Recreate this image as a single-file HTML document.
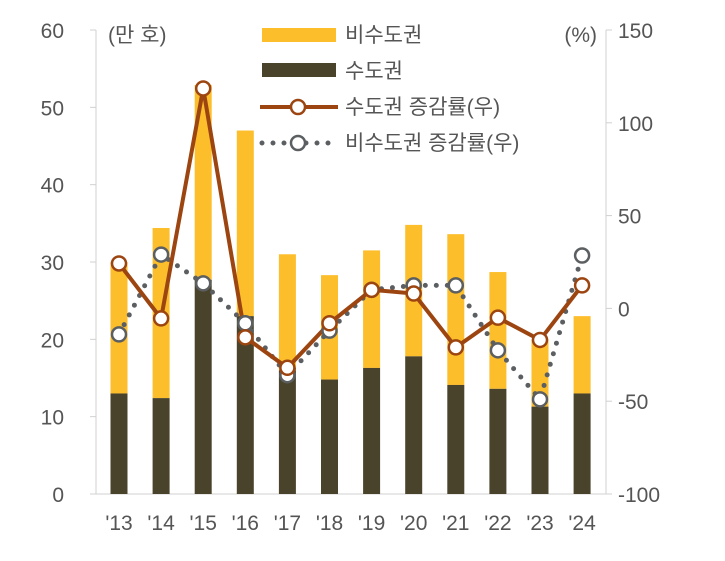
<!DOCTYPE html>
<html><head><meta charset="utf-8"><style>
body{margin:0;background:#fff}
text{font-family:"Liberation Sans","Noto Sans CJK KR",sans-serif}
</style></head><body>
<svg id="c" width="725" height="556" xmlns="http://www.w3.org/2000/svg"></svg>
<script>
const categories=["'13","'14","'15","'16","'17","'18","'19","'20","'21","'22","'23","'24"];
const capital=[13,12.4,27.7,23,16,14.8,16.3,17.8,14.1,13.6,11.3,13];
const total=[30,34.4,52.9,47,31,28.3,31.5,34.8,33.6,28.7,20,23];
const capitalGrowth=[24.2,-5.4,118.5,-15.6,-32,-8,10,8,-21,-5,-17,12.4];
const nonCapitalGrowth=[-14,29,13.5,-8,-36,-12,10,12.4,12.4,-22.6,-49,28.5];
const leftTicks=[0,10,20,30,40,50,60];
const rightTicks=[-100,-50,0,50,100,150];
const svg=document.getElementById('c');const NS='http://www.w3.org/2000/svg';
function el(t,a,p){const e=document.createElementNS(NS,t);for(const k in a)e.setAttribute(k,a[k]);(p||svg).appendChild(e);return e;}
const y0=494,y1=30;
const yL=v=>y0-(v/60)*(y0-y1);
const yR=v=>y0-((v+100)/250)*(y0-y1);
const xC=i=>119+i*42.1;
let ax=el('line',{x1:96,y1:30,x2:96,y2:494,stroke:'#d0d0d0','stroke-width':1});

let ax2=el('line',{x1:606,y1:30,x2:606,y2:494,stroke:'#d0d0d0','stroke-width':1});

let ax3=el('line',{x1:96,y1:494,x2:606,y2:494,stroke:'#d0d0d0','stroke-width':1});

leftTicks.forEach(v=>{const t=el('text',{x:64,y:yL(v)+8,'text-anchor':'end','font-size':21,fill:'#555'});t.textContent=v;

const k=el('line',{x1:90,y1:yL(v),x2:96,y2:yL(v),stroke:'#d0d0d0'});});
rightTicks.forEach(v=>{const t=el('text',{x:618,y:yR(v)+8,'font-size':21,fill:'#555'});t.textContent=v;

const k=el('line',{x1:606,y1:yR(v),x2:612,y2:yR(v),stroke:'#d0d0d0'});});
categories.forEach((c,i)=>{const t=el('text',{x:xC(i),y:530,'text-anchor':'middle','font-size':21,fill:'#555'});t.textContent=c;
});
let u=el('text',{x:108,y:42,'font-size':21,fill:'#555'});u.textContent='(만 호)';
let u2=el('text',{x:597,y:42,'text-anchor':'end','font-size':21,fill:'#555'});u2.textContent='(%)';
const bw=17;
categories.forEach((c,i)=>{
 const b=el('rect',{x:xC(i)-bw/2,y:yL(total[i]),width:bw,height:yL(capital[i])-yL(total[i]),fill:'#fdbe2c'});
 
 const d=el('rect',{x:xC(i)-bw/2,y:yL(capital[i]),width:bw,height:y0-yL(capital[i]),fill:'#4a432b'});
 
});
const gp=capitalGrowth.map((v,i)=>xC(i)+','+yR(v)).join(' ');
const np=nonCapitalGrowth.map((v,i)=>xC(i)+','+yR(v)).join(' ');
let l2=el('polyline',{points:np,fill:'none',stroke:'#5b5f61','stroke-width':5,'stroke-dasharray':'0 11','stroke-linecap':'round'});

let l1=el('polyline',{points:gp,fill:'none',stroke:'#9c4511','stroke-width':4});

nonCapitalGrowth.forEach((v,i)=>{const m=el('circle',{cx:xC(i),cy:yR(v),r:7,fill:'#fff',stroke:'#5b5f61','stroke-width':2.5});
});
capitalGrowth.forEach((v,i)=>{const m=el('circle',{cx:xC(i),cy:yR(v),r:7,fill:'#fff',stroke:'#9c4511','stroke-width':2.5});
});
// legend
const lg=el('g',{});
let r1=el('rect',{x:262,y:28,width:74,height:14,fill:'#fdbe2c'},lg);
let r2=el('rect',{x:262,y:63,width:74,height:14,fill:'#4a432b'},lg);
let s3=el('line',{x1:260,y1:107,x2:338,y2:107,stroke:'#9c4511','stroke-width':4},lg);
let c3=el('circle',{cx:298,cy:107,r:7,fill:'#fff',stroke:'#9c4511','stroke-width':2.5},lg);
let s4=el('line',{x1:262,y1:143,x2:336,y2:143,stroke:'#5b5f61','stroke-width':5,'stroke-dasharray':'0 11','stroke-linecap':'round'},lg);
let c4=el('circle',{cx:298,cy:143,r:7,fill:'#fff',stroke:'#5b5f61','stroke-width':2.5},lg);
[['비수도권',42],['수도권',78],['수도권 증감률(우)',114],['비수도권 증감률(우)',150]].forEach(([t,y])=>{const e=el('text',{x:345,y:y,'font-size':21,fill:'#555'},lg);e.textContent=t;
});
</script>
</body></html>
